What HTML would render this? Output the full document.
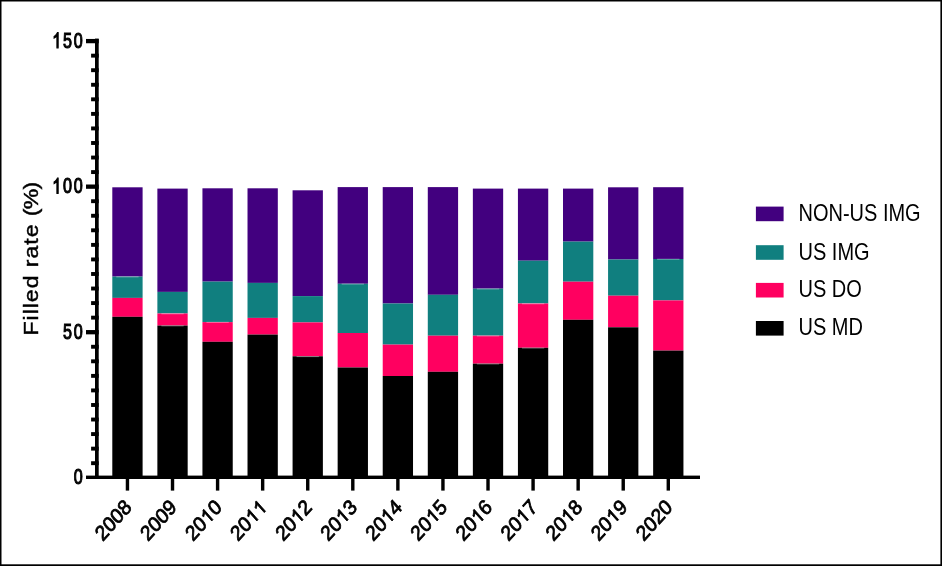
<!DOCTYPE html>
<html><head><meta charset="utf-8"><style>
html,body{margin:0;padding:0;background:#fff;}
svg{display:block;will-change:transform;}
text{font-family:"Liberation Sans",sans-serif;}
</style></head><body>
<svg width="942" height="566" viewBox="0 0 942 566">
<rect width="942" height="566" fill="#fff"/>
<rect x="0" y="0" width="942" height="1.5" fill="#000"/>
<rect x="0" y="0" width="1.5" height="566" fill="#000"/>
<rect x="0" y="564.3" width="942" height="1.7" fill="#000"/>
<rect x="940.4" y="0" width="1.6" height="566" fill="#000"/>
<rect x="112.30" y="187.3" width="30.3" height="89.30" fill="#42007f"/>
<rect x="112.30" y="276.6" width="30.3" height="21.30" fill="#107f7f"/>
<rect x="112.30" y="297.9" width="30.3" height="18.90" fill="#ff0060"/>
<rect x="112.30" y="316.8" width="30.3" height="159.30" fill="#000000"/>
<rect x="157.37" y="188.6" width="30.3" height="103.30" fill="#42007f"/>
<rect x="157.37" y="291.9" width="30.3" height="21.60" fill="#107f7f"/>
<rect x="157.37" y="313.5" width="30.3" height="12.10" fill="#ff0060"/>
<rect x="157.37" y="325.6" width="30.3" height="150.50" fill="#000000"/>
<rect x="202.44" y="188.3" width="30.3" height="93.30" fill="#42007f"/>
<rect x="202.44" y="281.6" width="30.3" height="40.50" fill="#107f7f"/>
<rect x="202.44" y="322.1" width="30.3" height="19.70" fill="#ff0060"/>
<rect x="202.44" y="341.8" width="30.3" height="134.30" fill="#000000"/>
<rect x="247.51" y="188.3" width="30.3" height="94.60" fill="#42007f"/>
<rect x="247.51" y="282.9" width="30.3" height="35.00" fill="#107f7f"/>
<rect x="247.51" y="317.9" width="30.3" height="16.70" fill="#ff0060"/>
<rect x="247.51" y="334.6" width="30.3" height="141.50" fill="#000000"/>
<rect x="292.58" y="190.3" width="30.3" height="105.80" fill="#42007f"/>
<rect x="292.58" y="296.1" width="30.3" height="26.30" fill="#107f7f"/>
<rect x="292.58" y="322.4" width="30.3" height="33.90" fill="#ff0060"/>
<rect x="292.58" y="356.3" width="30.3" height="119.80" fill="#000000"/>
<rect x="337.65" y="187.1" width="30.3" height="96.70" fill="#42007f"/>
<rect x="337.65" y="283.8" width="30.3" height="49.20" fill="#107f7f"/>
<rect x="337.65" y="333.0" width="30.3" height="34.50" fill="#ff0060"/>
<rect x="337.65" y="367.5" width="30.3" height="108.60" fill="#000000"/>
<rect x="382.72" y="187.1" width="30.3" height="116.40" fill="#42007f"/>
<rect x="382.72" y="303.5" width="30.3" height="41.10" fill="#107f7f"/>
<rect x="382.72" y="344.6" width="30.3" height="31.40" fill="#ff0060"/>
<rect x="382.72" y="376.0" width="30.3" height="100.10" fill="#000000"/>
<rect x="427.79" y="187.1" width="30.3" height="107.70" fill="#42007f"/>
<rect x="427.79" y="294.8" width="30.3" height="40.90" fill="#107f7f"/>
<rect x="427.79" y="335.7" width="30.3" height="36.10" fill="#ff0060"/>
<rect x="427.79" y="371.8" width="30.3" height="104.30" fill="#000000"/>
<rect x="472.86" y="188.6" width="30.3" height="100.10" fill="#42007f"/>
<rect x="472.86" y="288.7" width="30.3" height="47.00" fill="#107f7f"/>
<rect x="472.86" y="335.7" width="30.3" height="28.00" fill="#ff0060"/>
<rect x="472.86" y="363.7" width="30.3" height="112.40" fill="#000000"/>
<rect x="517.93" y="188.6" width="30.3" height="72.10" fill="#42007f"/>
<rect x="517.93" y="260.7" width="30.3" height="42.80" fill="#107f7f"/>
<rect x="517.93" y="303.5" width="30.3" height="44.30" fill="#ff0060"/>
<rect x="517.93" y="347.8" width="30.3" height="128.30" fill="#000000"/>
<rect x="563.00" y="188.6" width="30.3" height="53.00" fill="#42007f"/>
<rect x="563.00" y="241.6" width="30.3" height="40.10" fill="#107f7f"/>
<rect x="563.00" y="281.7" width="30.3" height="38.10" fill="#ff0060"/>
<rect x="563.00" y="319.8" width="30.3" height="156.30" fill="#000000"/>
<rect x="608.07" y="187.3" width="30.3" height="72.20" fill="#42007f"/>
<rect x="608.07" y="259.5" width="30.3" height="36.20" fill="#107f7f"/>
<rect x="608.07" y="295.7" width="30.3" height="31.60" fill="#ff0060"/>
<rect x="608.07" y="327.3" width="30.3" height="148.80" fill="#000000"/>
<rect x="653.14" y="187.2" width="30.3" height="71.80" fill="#42007f"/>
<rect x="653.14" y="259.0" width="30.3" height="41.40" fill="#107f7f"/>
<rect x="653.14" y="300.4" width="30.3" height="50.20" fill="#ff0060"/>
<rect x="653.14" y="350.6" width="30.3" height="125.50" fill="#000000"/>
<rect x="116.30" y="276.30" width="22.30" height="1.1" fill="#fff" fill-opacity="0.35"/>
<rect x="161.37" y="313.20" width="22.30" height="1.1" fill="#fff" fill-opacity="0.35"/>
<rect x="161.37" y="325.30" width="22.30" height="1.1" fill="#fff" fill-opacity="0.35"/>
<rect x="206.44" y="321.80" width="22.30" height="1.1" fill="#fff" fill-opacity="0.35"/>
<rect x="296.58" y="356.00" width="22.30" height="1.1" fill="#fff" fill-opacity="0.35"/>
<rect x="341.65" y="283.50" width="22.30" height="1.1" fill="#fff" fill-opacity="0.35"/>
<rect x="476.86" y="288.40" width="22.30" height="1.1" fill="#fff" fill-opacity="0.35"/>
<rect x="476.86" y="335.40" width="22.30" height="1.1" fill="#fff" fill-opacity="0.35"/>
<rect x="476.86" y="363.40" width="22.30" height="1.1" fill="#fff" fill-opacity="0.35"/>
<rect x="521.93" y="303.20" width="22.30" height="1.1" fill="#fff" fill-opacity="0.35"/>
<rect x="521.93" y="347.50" width="22.30" height="1.1" fill="#fff" fill-opacity="0.35"/>
<rect x="657.14" y="258.70" width="22.30" height="1.1" fill="#fff" fill-opacity="0.35"/>
<rect x="95.0" y="38.6" width="3.700000000000003" height="440.4" fill="#000"/>
<rect x="91.1" y="461.25" width="7.6000000000000085" height="3.9" fill="#000"/>
<rect x="91.1" y="446.69" width="7.6000000000000085" height="3.9" fill="#000"/>
<rect x="91.1" y="432.13" width="7.6000000000000085" height="3.9" fill="#000"/>
<rect x="91.1" y="417.58" width="7.6000000000000085" height="3.9" fill="#000"/>
<rect x="91.1" y="403.03" width="7.6000000000000085" height="3.9" fill="#000"/>
<rect x="91.1" y="388.47" width="7.6000000000000085" height="3.9" fill="#000"/>
<rect x="91.1" y="373.92" width="7.6000000000000085" height="3.9" fill="#000"/>
<rect x="91.1" y="359.36" width="7.6000000000000085" height="3.9" fill="#000"/>
<rect x="91.1" y="344.81" width="7.6000000000000085" height="3.9" fill="#000"/>
<rect x="86" y="330.05" width="12.700000000000003" height="4.3" fill="#000"/>
<rect x="91.1" y="315.69" width="7.6000000000000085" height="3.9" fill="#000"/>
<rect x="91.1" y="301.14" width="7.6000000000000085" height="3.9" fill="#000"/>
<rect x="91.1" y="286.58" width="7.6000000000000085" height="3.9" fill="#000"/>
<rect x="91.1" y="272.03" width="7.6000000000000085" height="3.9" fill="#000"/>
<rect x="91.1" y="257.48" width="7.6000000000000085" height="3.9" fill="#000"/>
<rect x="91.1" y="242.92" width="7.6000000000000085" height="3.9" fill="#000"/>
<rect x="91.1" y="228.36" width="7.6000000000000085" height="3.9" fill="#000"/>
<rect x="91.1" y="213.81" width="7.6000000000000085" height="3.9" fill="#000"/>
<rect x="91.1" y="199.25" width="7.6000000000000085" height="3.9" fill="#000"/>
<rect x="86" y="184.50" width="12.700000000000003" height="4.3" fill="#000"/>
<rect x="91.1" y="170.14" width="7.6000000000000085" height="3.9" fill="#000"/>
<rect x="91.1" y="155.59" width="7.6000000000000085" height="3.9" fill="#000"/>
<rect x="91.1" y="141.04" width="7.6000000000000085" height="3.9" fill="#000"/>
<rect x="91.1" y="126.48" width="7.6000000000000085" height="3.9" fill="#000"/>
<rect x="91.1" y="111.93" width="7.6000000000000085" height="3.9" fill="#000"/>
<rect x="91.1" y="97.37" width="7.6000000000000085" height="3.9" fill="#000"/>
<rect x="91.1" y="82.82" width="7.6000000000000085" height="3.9" fill="#000"/>
<rect x="91.1" y="68.26" width="7.6000000000000085" height="3.9" fill="#000"/>
<rect x="91.1" y="53.70" width="7.6000000000000085" height="3.9" fill="#000"/>
<rect x="86" y="38.95" width="12.700000000000003" height="4.3" fill="#000"/>
<rect x="86" y="475.6" width="614" height="3.4" fill="#000"/>
<rect x="125.75" y="478" width="3.4" height="12.6" fill="#000"/>
<rect x="170.82" y="478" width="3.4" height="12.6" fill="#000"/>
<rect x="215.89" y="478" width="3.4" height="12.6" fill="#000"/>
<rect x="260.96" y="478" width="3.4" height="12.6" fill="#000"/>
<rect x="306.03" y="478" width="3.4" height="12.6" fill="#000"/>
<rect x="351.10" y="478" width="3.4" height="12.6" fill="#000"/>
<rect x="396.17" y="478" width="3.4" height="12.6" fill="#000"/>
<rect x="441.24" y="478" width="3.4" height="12.6" fill="#000"/>
<rect x="486.31" y="478" width="3.4" height="12.6" fill="#000"/>
<rect x="531.38" y="478" width="3.4" height="12.6" fill="#000"/>
<rect x="576.45" y="478" width="3.4" height="12.6" fill="#000"/>
<rect x="621.52" y="478" width="3.4" height="12.6" fill="#000"/>
<rect x="666.59" y="478" width="3.4" height="12.6" fill="#000"/>
<g transform="translate(82.8,484.49) scale(1,1.18)"><g transform="translate(-8.992,0) scale(0.86,1)"><text font-family="Liberation Sans" font-size="18.8" stroke="#000" stroke-width="0.95">0</text></g></g>
<g transform="translate(82.8,338.94) scale(1,1.18)"><g transform="translate(-19.784,0) scale(0.86,1)"><text font-family="Liberation Sans" font-size="18.8" stroke="#000" stroke-width="0.95">5</text></g><g transform="translate(-8.992,0) scale(0.86,1)"><text font-family="Liberation Sans" font-size="18.8" stroke="#000" stroke-width="0.95">0</text></g></g>
<g transform="translate(82.8,193.39) scale(1,1.18)"><path transform="translate(-30.576,0) scale(0.007895,-0.009180)" d="M763 0L583 0L583 1098Q518 1038 412 980Q306 920 222 890L222 1057Q373 1125 486 1221Q599 1318 646 1409L763 1409Z" stroke="#000" stroke-width="103.49" stroke-linejoin="miter"/><g transform="translate(-19.784,0) scale(0.86,1)"><text font-family="Liberation Sans" font-size="18.8" stroke="#000" stroke-width="0.95">0</text></g><g transform="translate(-8.992,0) scale(0.86,1)"><text font-family="Liberation Sans" font-size="18.8" stroke="#000" stroke-width="0.95">0</text></g></g>
<g transform="translate(82.8,47.84) scale(1,1.18)"><path transform="translate(-30.576,0) scale(0.007895,-0.009180)" d="M763 0L583 0L583 1098Q518 1038 412 980Q306 920 222 890L222 1057Q373 1125 486 1221Q599 1318 646 1409L763 1409Z" stroke="#000" stroke-width="103.49" stroke-linejoin="miter"/><g transform="translate(-19.784,0) scale(0.86,1)"><text font-family="Liberation Sans" font-size="18.8" stroke="#000" stroke-width="0.95">5</text></g><g transform="translate(-8.992,0) scale(0.86,1)"><text font-family="Liberation Sans" font-size="18.8" stroke="#000" stroke-width="0.95">0</text></g></g>
<g transform="translate(37.5,259) scale(1,1.18) rotate(-90)"><text text-anchor="middle" font-family="Liberation Sans" font-size="19.5" stroke="#000" stroke-width="0.45"><tspan letter-spacing="0.85">Filled rate </tspan><tspan letter-spacing="-0.6">(%)</tspan></text></g>
<g transform="translate(132.75,508.5) scale(1,1.12) rotate(-45)"><text x="-42.268" font-family="Liberation Sans" font-size="19" stroke="#000" stroke-width="0.75">2</text><text x="-31.701" font-family="Liberation Sans" font-size="19" stroke="#000" stroke-width="0.75">0</text><text x="-21.134" font-family="Liberation Sans" font-size="19" stroke="#000" stroke-width="0.75">0</text><text x="-10.567" font-family="Liberation Sans" font-size="19" stroke="#000" stroke-width="0.75">8</text></g>
<g transform="translate(177.82,508.5) scale(1,1.12) rotate(-45)"><text x="-42.268" font-family="Liberation Sans" font-size="19" stroke="#000" stroke-width="0.75">2</text><text x="-31.701" font-family="Liberation Sans" font-size="19" stroke="#000" stroke-width="0.75">0</text><text x="-21.134" font-family="Liberation Sans" font-size="19" stroke="#000" stroke-width="0.75">0</text><text x="-10.567" font-family="Liberation Sans" font-size="19" stroke="#000" stroke-width="0.75">9</text></g>
<g transform="translate(222.89,508.5) scale(1,1.12) rotate(-45)"><text x="-42.268" font-family="Liberation Sans" font-size="19" stroke="#000" stroke-width="0.75">2</text><text x="-31.701" font-family="Liberation Sans" font-size="19" stroke="#000" stroke-width="0.75">0</text><path transform="translate(-21.134,0) scale(0.009277,-0.009277)" d="M763 0L583 0L583 1098Q518 1038 412 980Q306 920 222 890L222 1057Q373 1125 486 1221Q599 1318 646 1409L763 1409Z" stroke="#000" stroke-width="80.84" stroke-linejoin="miter"/><text x="-10.567" font-family="Liberation Sans" font-size="19" stroke="#000" stroke-width="0.75">0</text></g>
<g transform="translate(267.96,508.5) scale(1,1.12) rotate(-45)"><text x="-42.268" font-family="Liberation Sans" font-size="19" stroke="#000" stroke-width="0.75">2</text><text x="-31.701" font-family="Liberation Sans" font-size="19" stroke="#000" stroke-width="0.75">0</text><path transform="translate(-21.134,0) scale(0.009277,-0.009277)" d="M763 0L583 0L583 1098Q518 1038 412 980Q306 920 222 890L222 1057Q373 1125 486 1221Q599 1318 646 1409L763 1409Z" stroke="#000" stroke-width="80.84" stroke-linejoin="miter"/><path transform="translate(-10.567,0) scale(0.009277,-0.009277)" d="M763 0L583 0L583 1098Q518 1038 412 980Q306 920 222 890L222 1057Q373 1125 486 1221Q599 1318 646 1409L763 1409Z" stroke="#000" stroke-width="80.84" stroke-linejoin="miter"/></g>
<g transform="translate(313.03,508.5) scale(1,1.12) rotate(-45)"><text x="-42.268" font-family="Liberation Sans" font-size="19" stroke="#000" stroke-width="0.75">2</text><text x="-31.701" font-family="Liberation Sans" font-size="19" stroke="#000" stroke-width="0.75">0</text><path transform="translate(-21.134,0) scale(0.009277,-0.009277)" d="M763 0L583 0L583 1098Q518 1038 412 980Q306 920 222 890L222 1057Q373 1125 486 1221Q599 1318 646 1409L763 1409Z" stroke="#000" stroke-width="80.84" stroke-linejoin="miter"/><text x="-10.567" font-family="Liberation Sans" font-size="19" stroke="#000" stroke-width="0.75">2</text></g>
<g transform="translate(358.10,508.5) scale(1,1.12) rotate(-45)"><text x="-42.268" font-family="Liberation Sans" font-size="19" stroke="#000" stroke-width="0.75">2</text><text x="-31.701" font-family="Liberation Sans" font-size="19" stroke="#000" stroke-width="0.75">0</text><path transform="translate(-21.134,0) scale(0.009277,-0.009277)" d="M763 0L583 0L583 1098Q518 1038 412 980Q306 920 222 890L222 1057Q373 1125 486 1221Q599 1318 646 1409L763 1409Z" stroke="#000" stroke-width="80.84" stroke-linejoin="miter"/><text x="-10.567" font-family="Liberation Sans" font-size="19" stroke="#000" stroke-width="0.75">3</text></g>
<g transform="translate(403.17,508.5) scale(1,1.12) rotate(-45)"><text x="-42.268" font-family="Liberation Sans" font-size="19" stroke="#000" stroke-width="0.75">2</text><text x="-31.701" font-family="Liberation Sans" font-size="19" stroke="#000" stroke-width="0.75">0</text><path transform="translate(-21.134,0) scale(0.009277,-0.009277)" d="M763 0L583 0L583 1098Q518 1038 412 980Q306 920 222 890L222 1057Q373 1125 486 1221Q599 1318 646 1409L763 1409Z" stroke="#000" stroke-width="80.84" stroke-linejoin="miter"/><text x="-10.567" font-family="Liberation Sans" font-size="19" stroke="#000" stroke-width="0.75">4</text></g>
<g transform="translate(448.24,508.5) scale(1,1.12) rotate(-45)"><text x="-42.268" font-family="Liberation Sans" font-size="19" stroke="#000" stroke-width="0.75">2</text><text x="-31.701" font-family="Liberation Sans" font-size="19" stroke="#000" stroke-width="0.75">0</text><path transform="translate(-21.134,0) scale(0.009277,-0.009277)" d="M763 0L583 0L583 1098Q518 1038 412 980Q306 920 222 890L222 1057Q373 1125 486 1221Q599 1318 646 1409L763 1409Z" stroke="#000" stroke-width="80.84" stroke-linejoin="miter"/><text x="-10.567" font-family="Liberation Sans" font-size="19" stroke="#000" stroke-width="0.75">5</text></g>
<g transform="translate(493.31,508.5) scale(1,1.12) rotate(-45)"><text x="-42.268" font-family="Liberation Sans" font-size="19" stroke="#000" stroke-width="0.75">2</text><text x="-31.701" font-family="Liberation Sans" font-size="19" stroke="#000" stroke-width="0.75">0</text><path transform="translate(-21.134,0) scale(0.009277,-0.009277)" d="M763 0L583 0L583 1098Q518 1038 412 980Q306 920 222 890L222 1057Q373 1125 486 1221Q599 1318 646 1409L763 1409Z" stroke="#000" stroke-width="80.84" stroke-linejoin="miter"/><text x="-10.567" font-family="Liberation Sans" font-size="19" stroke="#000" stroke-width="0.75">6</text></g>
<g transform="translate(538.38,508.5) scale(1,1.12) rotate(-45)"><text x="-42.268" font-family="Liberation Sans" font-size="19" stroke="#000" stroke-width="0.75">2</text><text x="-31.701" font-family="Liberation Sans" font-size="19" stroke="#000" stroke-width="0.75">0</text><path transform="translate(-21.134,0) scale(0.009277,-0.009277)" d="M763 0L583 0L583 1098Q518 1038 412 980Q306 920 222 890L222 1057Q373 1125 486 1221Q599 1318 646 1409L763 1409Z" stroke="#000" stroke-width="80.84" stroke-linejoin="miter"/><text x="-10.567" font-family="Liberation Sans" font-size="19" stroke="#000" stroke-width="0.75">7</text></g>
<g transform="translate(583.45,508.5) scale(1,1.12) rotate(-45)"><text x="-42.268" font-family="Liberation Sans" font-size="19" stroke="#000" stroke-width="0.75">2</text><text x="-31.701" font-family="Liberation Sans" font-size="19" stroke="#000" stroke-width="0.75">0</text><path transform="translate(-21.134,0) scale(0.009277,-0.009277)" d="M763 0L583 0L583 1098Q518 1038 412 980Q306 920 222 890L222 1057Q373 1125 486 1221Q599 1318 646 1409L763 1409Z" stroke="#000" stroke-width="80.84" stroke-linejoin="miter"/><text x="-10.567" font-family="Liberation Sans" font-size="19" stroke="#000" stroke-width="0.75">8</text></g>
<g transform="translate(628.52,508.5) scale(1,1.12) rotate(-45)"><text x="-42.268" font-family="Liberation Sans" font-size="19" stroke="#000" stroke-width="0.75">2</text><text x="-31.701" font-family="Liberation Sans" font-size="19" stroke="#000" stroke-width="0.75">0</text><path transform="translate(-21.134,0) scale(0.009277,-0.009277)" d="M763 0L583 0L583 1098Q518 1038 412 980Q306 920 222 890L222 1057Q373 1125 486 1221Q599 1318 646 1409L763 1409Z" stroke="#000" stroke-width="80.84" stroke-linejoin="miter"/><text x="-10.567" font-family="Liberation Sans" font-size="19" stroke="#000" stroke-width="0.75">9</text></g>
<g transform="translate(673.59,508.5) scale(1,1.12) rotate(-45)"><text x="-42.268" font-family="Liberation Sans" font-size="19" stroke="#000" stroke-width="0.75">2</text><text x="-31.701" font-family="Liberation Sans" font-size="19" stroke="#000" stroke-width="0.75">0</text><text x="-21.134" font-family="Liberation Sans" font-size="19" stroke="#000" stroke-width="0.75">2</text><text x="-10.567" font-family="Liberation Sans" font-size="19" stroke="#000" stroke-width="0.75">0</text></g>
<rect x="755.9" y="206.60" width="27.7" height="14.6" fill="#42007f"/>
<g transform="translate(798.5,220.90) scale(1,1.22)"><text font-family="Liberation Sans" font-size="20">NON-US IMG</text></g>
<rect x="755.9" y="245.20" width="27.7" height="14.6" fill="#107f7f"/>
<g transform="translate(798.5,259.50) scale(1,1.22)"><text font-family="Liberation Sans" font-size="20">US IMG</text></g>
<rect x="755.9" y="282.90" width="27.7" height="14.6" fill="#ff0060"/>
<g transform="translate(798.5,297.20) scale(1,1.22)"><text font-family="Liberation Sans" font-size="20">US DO</text></g>
<rect x="755.9" y="321.00" width="27.7" height="14.6" fill="#000000"/>
<g transform="translate(798.5,335.30) scale(1,1.22)"><text font-family="Liberation Sans" font-size="20">US MD</text></g>
</svg>
</body></html>
